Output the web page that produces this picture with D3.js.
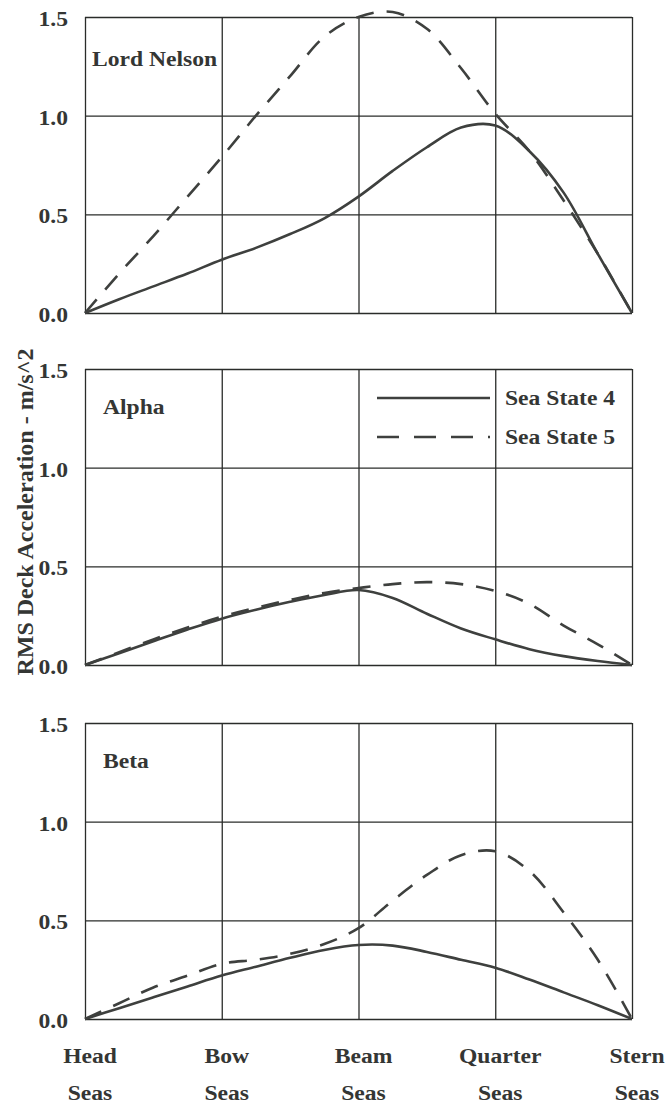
<!DOCTYPE html>
<html><head><meta charset="utf-8">
<script src="https://cdn.jsdelivr.net/npm/d3@7"></script>
<style>
html,body{margin:0;padding:0;background:#fff;}
svg{display:block;}
text{font-family:"Liberation Serif","Times New Roman",serif;font-weight:bold;fill:#343634;}
</style></head>
<body>
<script>
// ---- data ----
const headings = ["Head", "Bow", "Beam", "Quarter", "Stern"];
const headingLine2 = ["Seas", "Seas", "Seas", "Seas", "Seas"];
const xSamples = [0, 0.25, 0.5, 0.75, 1, 1.25, 1.5, 1.75, 2, 2.25, 2.5, 2.75, 3, 3.25, 3.5, 3.75, 4];
const ships = ["Lord Nelson", "Alpha", "Beta"];
const seriesNames = ["Sea State 4", "Sea State 5"];
const yTicks = [0, 0.5, 1.0, 1.5];

const lordNelsonSS4 = [0, .07, .135, .2, .27, .33, .40, .48, .59, .72, .84, .94, .95, .82, .61, .30, 0];
const lordNelsonSS5 = [0, .2, .39, .59, .79, 1.0, 1.2, 1.4, 1.5, 1.525, 1.44, 1.24, 1.01, .82, .57, .3, 0];
const alphaSS4 = [0, .06, .12, .18, .235, .28, .32, .355, .38, .34, .26, .185, .13, .08, .045, .02, 0];
const alphaSS5 = [0, .065, .13, .19, .245, .29, .33, .365, .39, .41, .42, .41, .375, .31, .2, .105, 0];
const betaSS4 = [0, .055, .11, .165, .22, .265, .31, .35, .375, .372, .34, .3, .26, .2, .135, .07, 0];
const betaSS5 = [0, .08, .16, .22, .28, .3, .33, .38, .46, .6, .73, .83, .85, .75, .54, .3, 0];

const panelSeries = [[lordNelsonSS4, lordNelsonSS5], [alphaSS4, alphaSS5], [betaSS4, betaSS5]];
const yTitle = "RMS Deck Acceleration - m/s^2";

// ---- layout ----
const W = 672, H = 1104;
const left = 85, right = 632;
const panelTop = [17, 369, 723];
const panelH = 296;
const stretch = 1.18;
const ink = "#2a2c2a", lineInk = "#3e403e";
const dashes = ["none", "18,13"];

const svg = d3.select("body").append("svg").attr("width", W).attr("height", H);
const x = d3.scaleLinear().domain([0, 4]).range([left, right]);

function sText(g, str, tx, ty, size, anchor) {
  return g.append("g").attr("transform", `translate(${tx},${ty}) scale(${stretch},1)`)
    .append("text").attr("font-size", size).attr("text-anchor", anchor || "start").text(str);
}

ships.forEach((ship, i) => {
  const top = panelTop[i];
  const y = d3.scaleLinear().domain([0, 1.5]).range([top + panelH, top]);
  const g = svg.append("g");

  const ya = g.append("g").attr("transform", `translate(${left},0)`)
    .call(d3.axisLeft(y).tickValues(yTicks).tickSize(-(right - left)).tickFormat(""));
  ya.select(".domain").remove();
  ya.selectAll("line").attr("stroke", ink).attr("stroke-width", 1.3);

  const xa = g.append("g").attr("transform", `translate(0,${top + panelH})`)
    .call(d3.axisBottom(x).tickValues(d3.range(headings.length)).tickSize(-panelH).tickFormat(""));
  xa.select(".domain").remove();
  xa.selectAll("line").attr("stroke", ink).attr("stroke-width", 1.3);

  yTicks.forEach(v => {
    sText(g, d3.format(".1f")(v), 68, y(v) + 9, 20, "end");
  });

  sText(g, ship, i === 0 ? 92 : 103, top + (i === 0 ? 49 : 45), 20, "start");

  const line = d3.line().x((d, k) => x(xSamples[k])).y(d => y(d)).curve(d3.curveCatmullRom.alpha(0.5));
  panelSeries[i].forEach((vals, s) => {
    g.append("path").datum(vals).attr("d", line)
      .attr("fill", "none").attr("stroke", lineInk).attr("stroke-width", 2.6)
      .attr("stroke-dasharray", dashes[s]).attr("stroke-linejoin", "round");
  });
});

// legend (in Alpha panel)
const lg = svg.append("g");
const legY = [398, 437];
seriesNames.forEach((n, s) => {
  lg.append("line").attr("x1", 377).attr("x2", 490).attr("y1", legY[s]).attr("y2", legY[s])
    .attr("stroke", lineInk).attr("stroke-width", 2.6).attr("stroke-dasharray", s ? "22,15" : "none");
  sText(lg, n, 505, legY[s] + 7, 20, "start");
});

// x labels
headings.forEach((h, k) => {
  sText(svg, h, x(k) + 5, 1063, 20, "middle");
  sText(svg, headingLine2[k], x(k) + 5, 1100, 20, "middle");
});

// y axis title
svg.append("text").attr("transform", `translate(33,512) rotate(-90)`)
  .attr("text-anchor", "middle").attr("font-size", 24).text(yTitle);
</script>
</body></html>
